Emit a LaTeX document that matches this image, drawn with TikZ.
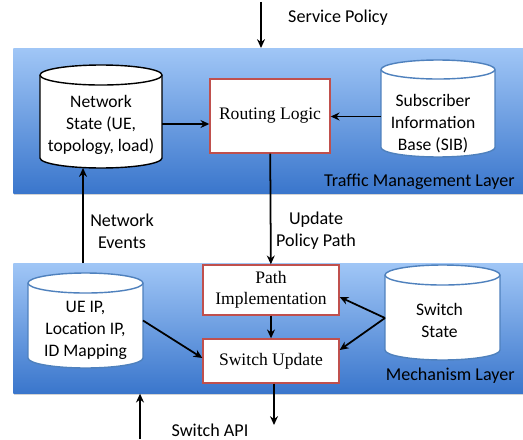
\documentclass[tikz,border=0pt]{standalone}
\usepackage{fontspec}
\setmainfont{Carlito}
\newfontfamily\boxfont{Liberation Serif}
\usetikzlibrary{positioning, calc, shadows, arrows.meta}

\definecolor{layertop}{RGB}{160,198,246}
\definecolor{layerbot}{RGB}{58,118,204}
\definecolor{boxred}{RGB}{192,80,77}
\definecolor{dbblue}{RGB}{79,129,189}

% cylinder drawn inside an empty node: [colour]{node}{x radius}{cap radius}
\newcommand{\dbcyl}[4][black]{%
  \draw[#1, fill=white, line width=0.8pt]
    ([yshift=-#4]#2.north west) -- ([yshift=#4]#2.south west)
    arc[start angle=180, end angle=360, x radius=#3, y radius=#4]
    -- ([yshift=-#4]#2.north east)
    arc[start angle=0, end angle=180, x radius=#3, y radius=#4] -- cycle;
  \draw[#1, line width=0.8pt] ([yshift=-#4]#2.north west)
    arc[start angle=180, end angle=360, x radius=#3, y radius=#4];
}

\tikzset{
  layer/.style={top color=layertop, bottom color=layerbot, inner sep=0pt, anchor=north west,
    drop shadow={opacity=0.35, shadow xshift=0.4pt, shadow yshift=-1pt}},
  logic/.style={draw=boxred, fill=white, line width=0.8pt, align=center, inner sep=0pt,
    font=\boxfont\fontsize{10}{12}\selectfont},
  db/.style={inner sep=0pt, outer sep=0pt},
  flow/.style={-{Stealth[length=5pt, width=4.5pt]}, line width=1pt},
  lbl/.style={align=center, font=\fontsize{10.3}{12.5}\selectfont},
  dbtxt/.style={align=center, font=\fontsize{10}{12.5}\selectfont}
}

\begin{document}
\begin{tikzpicture}[x=0.02cm, y=-0.02cm]
  \useasboundingbox (0,0) rectangle (523,439);

  % layers
  \node[layer, minimum width=10.2cm, minimum height=2.9cm] (tml) at (13,48) {};
  \node[layer, minimum width=10.2cm, minimum height=2.6cm] (mech) at (13,263) {};
  \node[lbl, anchor=east, inner sep=0pt] (tmltxt) at (515,182) {Traffic Management Layer};
  \node[lbl, anchor=east, inner sep=0pt] (mechtxt) at (515,376) {Mechanism Layer};

  % traffic management layer
  \node[db, minimum width=2.44cm, minimum height=2.06cm] (ns) at (101,116.5) {};
  \dbcyl{ns}{1.22cm}{0.2cm}
  \node[dbtxt] (nstxt) at ($(ns)+(0,8)$) {Network\\State (UE,\\topology, load)};
  \node[logic, minimum width=2.4cm, minimum height=1.48cm] (rl) at (270,116) {Routing Logic};
  \node[db, minimum width=2.28cm, minimum height=1.94cm] (sib) at (438,108.5) {};
  \dbcyl[dbblue]{sib}{1.14cm}{0.19cm}
  \node[dbtxt] (sibtxt) at ($(sib)+(-5,15)$) {Subscriber\\Information\\Base (SIB)};

  % mechanism layer
  \node[db, minimum width=2.3cm, minimum height=1.9cm] (ue) at (85.5,320.5) {};
  \dbcyl[dbblue]{ue}{1.15cm}{0.2cm}
  \node[dbtxt] (uetxt) at ($(ue)+(0,10)$) {UE IP,\\Location IP,\\ID Mapping};
  \node[logic, minimum width=2.72cm, minimum height=1cm] (pi) at (271,290) {Path\\Implementation};
  \node[logic, minimum width=2.72cm, minimum height=0.88cm] (su) at (271,361) {Switch Update};
  \node[db, minimum width=2.3cm, minimum height=1.9cm] (ss) at (442.5,312.5) {};
  \dbcyl[dbblue]{ss}{1.15cm}{0.2cm}
  \node[dbtxt] (sstxt) at ($(ss)+(-3,8)$) {Switch\\State};

  % connectors
  \coordinate (sp) at (261,2);
  \draw[flow] (sp) -- (sp |- tml.north);
  \node[lbl] (sptxt) at (338,18) {Service Policy};

  \draw[flow] ($(ns.east |- rl.east)+(0,8)$) -- ($(rl.west)+(0,8)$);
  \draw[flow] ($(sib.west)+(0,8)$) -- ($(sib.west -| rl.east)+(0,8)$);

  \coordinate (ne) at (83,263);
  \draw[flow] (ne) -- (ne |- ns.south);
  \node[lbl] (netxt) at (122,231) {Network\\Events};

  \draw[flow] (rl) -- (pi);
  \node[lbl] (uptxt) at (316,231) {Update\\Policy Path};

  \draw[flow] (pi) -- (su);
  \draw[flow] (ue.east) -- ($(su.west)+(0,-3)$);
  \coordinate (ssl) at (385,318);
  \draw[flow] (ssl) -- ($(pi.east)+(0,7)$);
  \draw[flow] (ssl) -- ($(su.east)+(0,-11)$);

  \coordinate (api) at (140,439);
  \draw[flow] (api) -- (api |- mech.south);
  \coordinate (apiout) at (274,425);
  \draw[flow] (su.south -| apiout) -- (apiout);
  \node[lbl] (apitxt) at (210,430) {Switch API};
\end{tikzpicture}
\end{document}
